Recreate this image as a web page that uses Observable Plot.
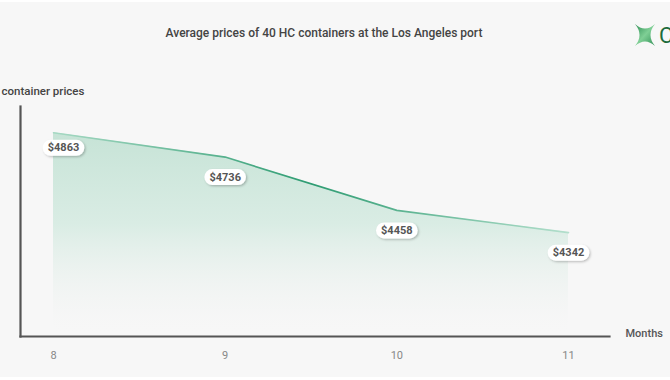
<!DOCTYPE html>
<html>
<head>
<meta charset="utf-8">
<script src="https://cdn.jsdelivr.net/npm/d3@7"></script>
<script src="https://cdn.jsdelivr.net/npm/@observablehq/plot@0.6"></script>
<style>
  html, body { margin: 0; padding: 0; background: #ffffff; }
  #wrap { position: relative; width: 670px; height: 380px; overflow: hidden; background: #ffffff; font-family: Roboto, "Noto Sans", sans-serif; }
  #bg { position: absolute; left: 0; top: 2px; width: 670px; height: 375px; background: #f7f7f7; }
  #title { position: absolute; left: 0; top: 26px; width: 648px; text-align: center; font-size: 12px; line-height: 14px; font-weight: 500; color: #444; }
  #logo { position: absolute; left: 630px; top: 20px; }
  #chart { position: absolute; left: 0; top: 0; }
  #chart svg { overflow: visible; }
</style>
</head>
<body>
<div id="wrap">
  <div id="bg"></div>
  <div id="chart"></div>
  <div id="title">Average prices of 40 HC containers at the Los Angeles port</div>
  <svg id="logo" width="40" height="32" viewBox="0 0 40 32">
    <defs>
      <linearGradient id="logoGrad" x1="0" y1="0" x2="1" y2="1">
        <stop offset="0" stop-color="#2f8f55"/>
        <stop offset="0.5" stop-color="#7fcf95"/>
        <stop offset="1" stop-color="#2f8f55"/>
      </linearGradient>
    </defs>
    <path d="M5 4 Q15 13 25 4 Q16 15 25 26 Q15 17 5 26 Q14 15 5 4 Z" fill="url(#logoGrad)"/>
    <text x="29" y="23" font-family="Roboto, sans-serif" font-size="22" fill="#1d6b3c">C</text>
  </svg>
</div>
<script>
const months = [8, 9, 10, 11];
const prices = [4863, 4736, 4458, 4342];
const tickLabels = ["8", "9", "10", "11"];
const priceLabels = ["$4863", "$4736", "$4458", "$4342"];
const yAxisTitle = "container prices";
const xAxisTitle = "Months";

const data = months.map((m, i) => ({month: m, price: prices[i], label: priceLabels[i]}));

const chart = Plot.plot({
  width: 670,
  height: 380,
  marginLeft: 20,
  marginRight: 61,
  marginTop: 106,
  marginBottom: 44,
  style: {background: "transparent", fontFamily: "Roboto, sans-serif", overflow: "visible"},
  x: {domain: [8, 11], insetLeft: 33, insetRight: 41},
  y: {domain: [3800, 5000], axis: null},
  marks: [
    Plot.areaY(data, {x: "month", y1: 3800, y2: "price", fill: "url(#areaGrad)", curve: "linear"}),
    Plot.line(data, {x: "month", y: "price", stroke: "url(#lineGrad)", strokeWidth: 1.6}),
    Plot.frame({anchor: "left", stroke: "#555", strokeWidth: 2.2}),
    Plot.frame({anchor: "bottom", stroke: "#555", strokeWidth: 2.2}),
    Plot.axisX({ticks: months, tickSize: 0, tickPadding: 15, tickFormat: d => tickLabels[months.indexOf(d)], fontSize: 11, label: null, fill: "#888"}),
    Plot.text([xAxisTitle], {frameAnchor: "bottom-right", textAnchor: "start", dx: 16, dy: 0, fontSize: 11, fontWeight: 500, fill: "#555"}),
    Plot.text([yAxisTitle], {frameAnchor: "top-left", textAnchor: "start", dx: -19, dy: -20, fontSize: 11.5, fontWeight: 500, fill: "#444"}),
    Plot.text(data.slice(0, 1), {x: "month", y: "price", text: "label", dx: 10, dy: 15, fontSize: 11, fontWeight: 700, fill: "#555", className: "pill"}),
    Plot.text(data.slice(1), {x: "month", y: "price", text: "label", dx: 0, dy: 20, fontSize: 11, fontWeight: 700, fill: "#555", className: "pill"})
  ]
});

document.getElementById("chart").appendChild(chart);

// gradients
const ns = "http://www.w3.org/2000/svg";
const defs = document.createElementNS(ns, "defs");
defs.innerHTML = `
  <linearGradient id="areaGrad" x1="0" y1="0" x2="0" y2="1">
    <stop offset="0" stop-color="#c6e3d6" stop-opacity="1"/>
    <stop offset="0.45" stop-color="#d6ebe2" stop-opacity="0.9"/>
    <stop offset="0.85" stop-color="#eef2f0" stop-opacity="0.3"/>
    <stop offset="1" stop-color="#f7f7f7" stop-opacity="0"/>
  </linearGradient>
  <linearGradient id="lineGrad" x1="0" y1="0" x2="1" y2="0">
    <stop offset="0" stop-color="#a6d9c3"/>
    <stop offset="0.5" stop-color="#2e9c72"/>
    <stop offset="1" stop-color="#b3dfcc"/>
  </linearGradient>
  <filter id="pillShadow" x="-30%" y="-50%" width="160%" height="200%">
    <feDropShadow dx="1.2" dy="1.2" stdDeviation="0.8" flood-color="#000" flood-opacity="0.25"/>
  </filter>`;
chart.insertBefore(defs, chart.firstChild);

// pills behind value labels
chart.querySelectorAll("g.pill text, .pill text").forEach(t => {
  const b = t.getBBox();
  const r = document.createElementNS(ns, "rect");
  const cy = b.y + b.height / 2;
  r.setAttribute("x", b.x - 5);
  r.setAttribute("y", cy - 8);
  r.setAttribute("width", b.width + 10);
  r.setAttribute("height", 16);
  r.setAttribute("rx", 8);
  r.setAttribute("fill", "#ffffff");
  r.setAttribute("filter", "url(#pillShadow)");
  const tr = t.getAttribute("transform");
  if (tr) r.setAttribute("transform", tr);
  t.parentNode.insertBefore(r, t);
});
</script>
</body>
</html>
